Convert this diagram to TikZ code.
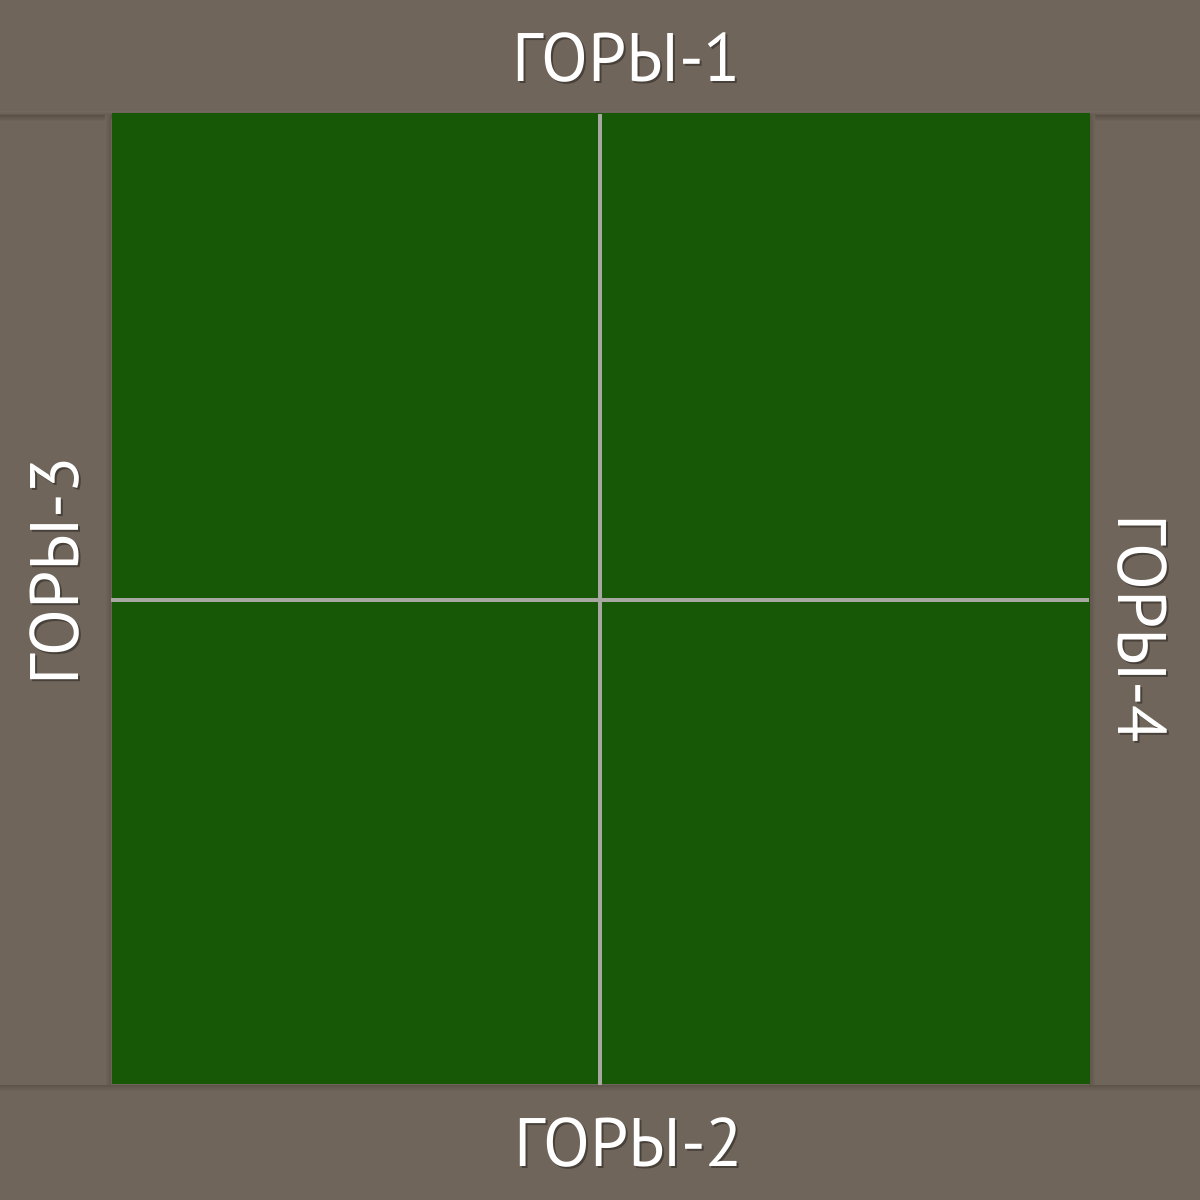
\documentclass[tikz,border=0pt]{standalone}
\usepackage{fontspec}
\setmainfont{PT Sans}
\definecolor{band}{HTML}{70655A}
\definecolor{bandshade}{HTML}{5E5449}
\definecolor{field}{HTML}{165806}
\definecolor{gridline}{HTML}{A8A8A2}
\tikzset{
  lbl/.style={text=white, font=\fontsize{19.5}{22}\selectfont, inner sep=0pt},
  lblshadow/.style={text=black, opacity=0.35, font=\fontsize{19.5}{22}\selectfont, inner sep=0pt},
  gline/.style={draw=gridline, line width=0.9pt}
}
\begin{document}
\begin{tikzpicture}
\useasboundingbox (0,0) rectangle (12,12);
\fill[band] (0,0) rectangle (12,12);
% shadows between bands
\shade[top color=band, bottom color=bandshade] (0,10.88) rectangle (12,10.84);
\shade[top color=bandshade, bottom color=band] (0,10.84) rectangle (12,10.79);
\shade[left color=band, right color=bandshade] (1.05,1.15) rectangle (1.11,10.84);
\shade[left color=bandshade, right color=band] (10.89,1.15) rectangle (10.95,10.84);
\shade[top color=bandshade, bottom color=band] (0,1.15) rectangle (12,1.09);
% field
\node[fill=field, inner sep=0pt, minimum width=9.78cm, minimum height=9.71cm, anchor=south west] (field) at (1.11,1.15) {};
\coordinate (vt) at (6.00,10.86);
\coordinate (vb) at (6.00,1.15);
\coordinate (hl) at (1.11,6.00);
\coordinate (hr) at (10.89,6.00);
\draw[gline] (vt) -- (vb);
\draw[gline] (hl) -- (hr);
% labels
\node[lblshadow] (s1) at (6.29,11.40) {ГОРЫ-1};
\node[lbl] (t1) at (6.27,11.42) {ГОРЫ-1};
\node[lblshadow] (s2) at (6.31,0.55) {ГОРЫ-2};
\node[lbl] (t2) at (6.29,0.57) {ГОРЫ-2};
\node[lblshadow, rotate=90] (s3) at (0.57,6.27) {ГОРЫ-3};
\node[lbl, rotate=90] (t3) at (0.55,6.29) {ГОРЫ-3};
\node[lblshadow, rotate=-90] (s4) at (11.44,5.69) {ГОРЫ-4};
\node[lbl, rotate=-90] (t4) at (11.42,5.71) {ГОРЫ-4};
\end{tikzpicture}
\end{document}
